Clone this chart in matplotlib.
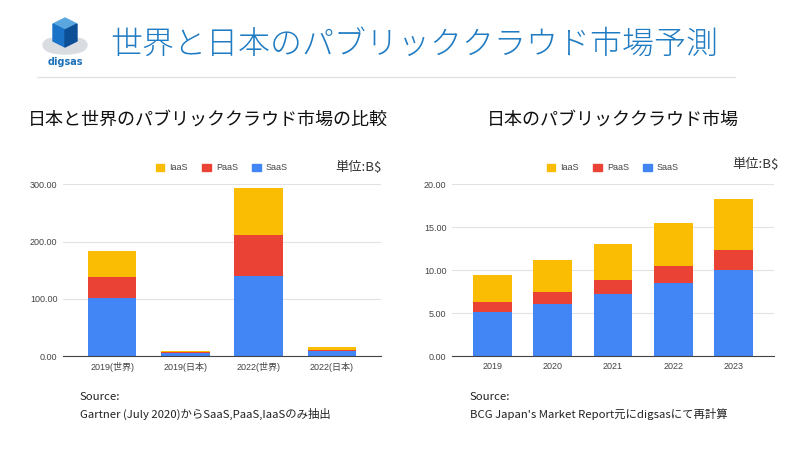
import matplotlib
matplotlib.use('Agg')
import matplotlib.pyplot as plt
import numpy as np
from matplotlib.patches import Patch, Ellipse, Polygon

plt.rcParams['font.family'] = ['Noto Sans CJK JP', 'DejaVu Sans']

# %% Data
left_cats = ['2019(世界)', '2019(日本)', '2022(世界)', '2022(日本)']
left_saas = [102.0, 5.13, 140.4, 8.5]
left_paas = [36.7, 1.2, 71.0, 1.95]
left_iaas = [44.9, 3.07, 81.5, 5.0]
left_yticks = [0, 100, 200, 300]

right_cats = ['2019', '2020', '2021', '2022', '2023']
right_saas = [5.13, 6.06, 7.22, 8.5, 10.06]
right_paas = [1.2, 1.4, 1.63, 1.95, 2.29]
right_iaas = [3.07, 3.69, 4.24, 5.0, 5.9]
right_yticks = [0, 5, 10, 15, 20]

C_SAAS = '#4285F4'
C_PAAS = '#EA4335'
C_IAAS = '#FBBC04'
BLUE = '#1f7bc2'
TICKFONT = ['Liberation Sans', 'Noto Sans CJK JP']

W, H = 800, 450
fig = plt.figure(figsize=(8, 4.5), dpi=100)


def box(x0, y0, x1, y1):
    return [x0 / W, 1 - y1 / H, (x1 - x0) / W, (y1 - y0) / H]


# %% Header
fig.text(110 / W, 1 - 45 / H, '世界と日本のパブリッククラウド市場予測',
         color=BLUE, fontsize=23, va='center', ha='left', fontweight='light')
fig.add_artist(plt.Line2D([37 / W, 735 / W], [1 - 77 / H, 1 - 77 / H],
                          color='#e3e3e3', lw=1))

# logo
lax = fig.add_axes(box(38, 14, 92, 68))
lax.set_xlim(0, 54)
lax.set_ylim(0, 54)
lax.axis('off')
for cx, cy, w, h in [(27, 20, 40, 12), (14, 23, 18, 13), (40, 23, 18, 13),
                     (27, 26, 28, 14)]:
    lax.add_patch(Ellipse((cx, cy), w, h, color='#d9dde2', zorder=1))
lax.add_patch(Polygon([[15, 44], [27, 50], [39, 44], [27, 38]],
                      color='#5aa7e0', zorder=2))
lax.add_patch(Polygon([[15, 44], [27, 38], [27, 21], [15, 27]],
                      color='#1a73c6', zorder=2))
lax.add_patch(Polygon([[27, 38], [39, 44], [39, 27], [27, 21]],
                      color='#0d4f96', zorder=2))
lax.text(27, 6, 'digsas', color='#1a6fb8', fontsize=7, ha='center',
         va='center', fontweight='bold', family='DejaVu Sans')


# %% Charts
def stacked(ax, cats, saas, paas, iaas, yticks, width):
    x = np.arange(len(cats))
    saas = np.array(saas)
    paas = np.array(paas)
    iaas = np.array(iaas)
    ax.bar(x, saas, width, color=C_SAAS, zorder=3)
    ax.bar(x, paas, width, bottom=saas, color=C_PAAS, zorder=3)
    ax.bar(x, iaas, width, bottom=saas + paas, color=C_IAAS, zorder=3)
    ax.set_xlim(-0.67, len(cats) - 0.33)
    ax.set_ylim(0, yticks[-1])
    ax.set_yticks(yticks)
    ax.set_yticklabels(['%.2f' % v for v in yticks], family=TICKFONT)
    ax.set_xticks(x)
    ax.set_xticklabels(cats, family=TICKFONT)
    ax.grid(axis='y', color='#e2e2e2', lw=0.8, zorder=0)
    for s in ['top', 'right', 'left']:
        ax.spines[s].set_visible(False)
    ax.spines['bottom'].set_color('#444444')
    ax.spines['bottom'].set_linewidth(0.8)
    ax.spines['bottom'].set_zorder(4)
    ax.tick_params(length=0, labelsize=6.5, labelcolor='#444444', pad=4)
    handles = [Patch(color=C_IAAS, label='IaaS'),
               Patch(color=C_PAAS, label='PaaS'),
               Patch(color=C_SAAS, label='SaaS')]
    leg = ax.legend(handles=handles, loc='center', bbox_to_anchor=(0.5, 1.095),
                    ncol=3, frameon=False, handlelength=0.9,
                    handleheight=0.9, handletextpad=0.6, columnspacing=1.6,
                    prop={'family': TICKFONT, 'size': 6.5})
    for t in leg.get_texts():
        t.set_color('#444444')


ax1 = fig.add_axes(box(63, 184.3, 381, 356))
stacked(ax1, left_cats, left_saas, left_paas, left_iaas, left_yticks, 0.66)
ax2 = fig.add_axes(box(452, 184.3, 774, 356))
stacked(ax2, right_cats, right_saas, right_paas, right_iaas, right_yticks, 0.64)

fig.text(358 / W, 1 - 167 / H, '単位:B$', fontsize=9.5, color='#333333',
         ha='center', va='center')
fig.text(755 / W, 1 - 164 / H, '単位:B$', fontsize=9.5, color='#333333',
         ha='center', va='center')

# %% Subtitles
fig.text(208 / W, 1 - 120 / H, '日本と世界のパブリッククラウド市場の比較',
         fontsize=13, ha='center', va='center', color='#111111')
fig.text(613 / W, 1 - 120 / H, '日本のパブリッククラウド市場',
         fontsize=13, ha='center', va='center', color='#111111')

# %% Sources
fig.text(80 / W, 1 - 397 / H, 'Source:', fontsize=8.2, color='#222222',
         va='center')
fig.text(80 / W, 1 - 414 / H, 'Gartner (July 2020)からSaaS,PaaS,IaaSのみ抽出',
         fontsize=8.2, color='#222222', va='center')
fig.text(470 / W, 1 - 397 / H, 'Source:', fontsize=8.2, color='#222222',
         va='center')
fig.text(470 / W, 1 - 414 / H, "BCG Japan's Market Report元にdigsasにて再計算",
         fontsize=8.2, color='#222222', va='center')

plt.savefig('out.png', dpi=100)
